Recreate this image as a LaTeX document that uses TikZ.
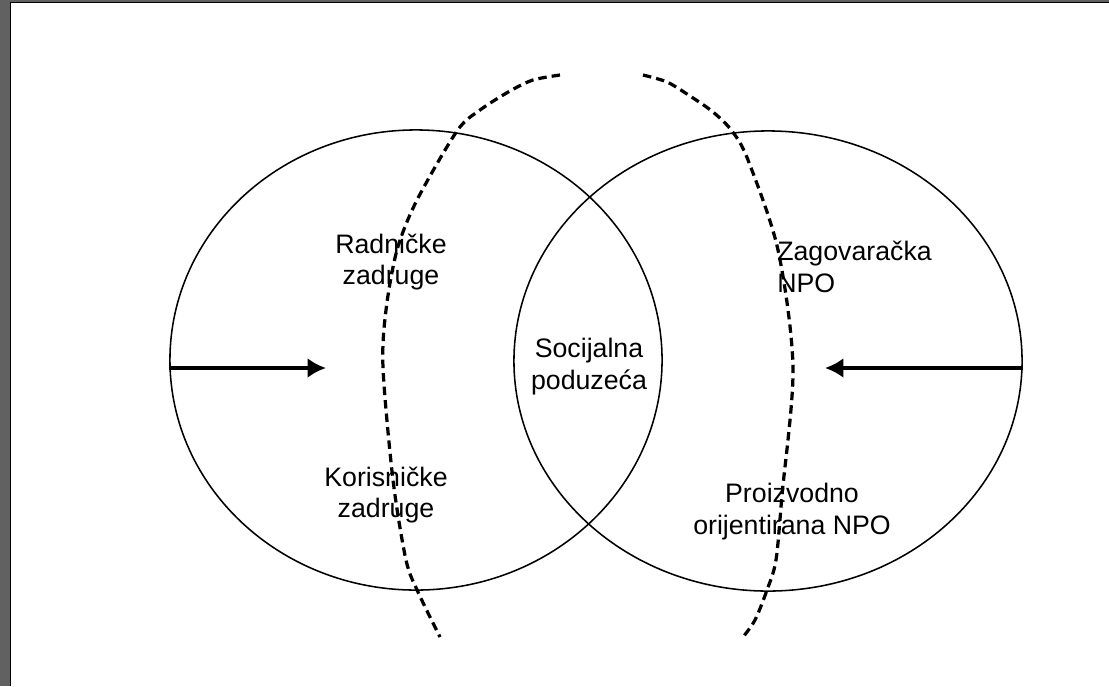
\documentclass[tikz,border=0pt]{standalone}
\usepackage{fontspec}
\setmainfont{Liberation Sans}
\usetikzlibrary{arrows.meta}
\usetikzlibrary{shapes.geometric}
\usetikzlibrary{positioning}
\tikzset{krug/.style = {draw, ellipse, line width=1.1pt, inner sep=0}}
\tikzset{crtkano/.style = {line width=2.3pt, dash pattern=on 6pt off 3.6pt}}
\tikzset{strelica/.style = {line width=2.5pt, -{Latex[length=4.6mm, width=5mm]}}}
\tikzset{oznaka/.style = {align=center, inner sep=0, font=\fontsize{19}{22.7}\selectfont}}
\definecolor{okvir}{rgb}{0.38, 0.38, 0.38}

\begin{document}
\begin{tikzpicture}[x=0.025cm, y=-0.025cm]
    \useasboundingbox (0, 0) rectangle (1109, 686);
    \fill [okvir] (0, 0) rectangle (1109, 686);
    \fill [white] (10, 2) rectangle (1109, 686);
    \draw [line width=1.4pt] (1109, 2.5) -- (10.5, 2.5) -- (10.5, 686);

    \node [krug, minimum width=12.3cm, minimum height=11.5cm] (zadruge) at (416, 360) {};
    \node [krug, minimum width=12.7cm, minimum height=11.5cm] (npo) at (768, 361) {};

    \draw [crtkano] plot [smooth] coordinates {(560, 75) (533, 80) (510, 91) (480, 110) (457, 131)
        (417, 200) (397, 250) (386, 310) (383, 368) (393, 480) (406, 560) (418, 592) (440, 637)};
    \draw [crtkano] plot [smooth] coordinates {(643, 75) (667, 82) (690, 96) (713, 112) (732, 131)
        (748, 160) (778, 250) (793, 368) (782, 495) (776, 560) (767, 590) (755, 620) (743, 637)};

    \node [oznaka] (radnicke) at (391, 262) {Radničke\\zadruge};
    \node [oznaka] (korisnicke) at (386, 495) {Korisničke\\zadruge};
    \node [oznaka] (socijalna) at (589, 367) {Socijalna\\poduzeća};
    \node [oznaka, align=left, anchor=west] (zagovaracka) at (777, 267) {Zagovaračka\\NPO};
    \node [oznaka] (proizvodno) at (792, 512) {Proizvodno\\orijentirana NPO};

    \coordinate (lijevo) at (326, 368);
    \coordinate (desno) at (825, 368);
    \draw [strelica] (zadruge.west |- lijevo) -- (lijevo);
    \draw [strelica] (npo.east |- desno) -- (desno);
\end{tikzpicture}
\end{document}
